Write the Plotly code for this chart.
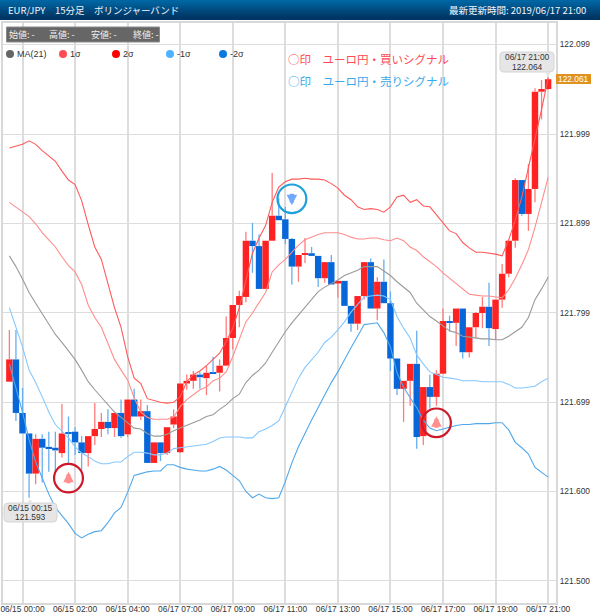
import plotly.graph_objects as go

# candle index 0 = 06/15 00:00, one candle per 15 minutes (weekend gap removed)
candle_index = list(range(-2, 81))
opens = [121.723,121.748,121.688,121.665,121.620,121.659,121.650,121.649,121.643,121.666,121.667,121.655,121.643,121.662,121.670,121.678,121.671,121.688,121.664,121.703,121.684,121.690,121.632,121.655,121.643,121.675,121.644,121.721,121.724,121.731,121.727,121.733,121.733,121.741,121.772,121.809,121.818,121.881,121.875,121.827,121.881,121.909,121.905,121.883,121.852,121.865,121.867,121.864,121.839,121.857,121.833,121.836,121.808,121.788,121.819,121.857,121.805,121.835,121.811,121.749,121.715,121.724,121.743,121.662,121.717,121.706,121.732,121.791,121.789,121.805,121.756,121.784,121.800,121.807,121.782,121.815,121.844,121.881,121.949,121.911,121.939,122.048,122.051]
closes = [121.748,121.688,121.665,121.620,121.659,121.649,121.648,121.646,121.665,121.665,121.655,121.643,121.662,121.670,121.678,121.671,121.688,121.662,121.703,121.684,121.690,121.632,121.655,121.643,121.672,121.684,121.721,121.724,121.731,121.728,121.733,121.732,121.741,121.772,121.809,121.819,121.881,121.875,121.827,121.881,121.909,121.904,121.883,121.852,121.865,121.867,121.864,121.839,121.857,121.832,121.836,121.808,121.788,121.819,121.857,121.805,121.835,121.811,121.749,121.715,121.724,121.743,121.661,121.717,121.706,121.732,121.791,121.789,121.805,121.756,121.784,121.800,121.807,121.783,121.815,121.844,121.881,121.949,121.911,121.939,122.048,122.051,122.062]
highs = [121.781,121.781,121.716,121.665,121.664,121.664,121.667,121.667,121.698,121.684,121.672,121.662,121.662,121.699,121.688,121.692,121.688,121.703,121.703,121.715,121.703,121.697,121.655,121.655,121.672,121.692,121.721,121.731,121.735,121.734,121.741,121.751,121.748,121.796,121.809,121.825,121.891,121.901,121.888,121.881,121.957,121.929,121.919,121.884,121.865,121.884,121.874,121.864,121.857,121.865,121.836,121.836,121.808,121.819,121.857,121.861,121.840,121.860,121.824,121.749,121.724,121.743,121.780,121.717,121.731,121.736,121.805,121.797,121.805,121.805,121.784,121.801,121.818,121.834,121.815,121.855,121.881,121.951,121.949,121.967,122.052,122.061,122.064]
lows = [121.723,121.679,121.665,121.593,121.608,121.610,121.622,121.622,121.638,121.631,121.641,121.624,121.628,121.652,121.661,121.664,121.661,121.660,121.661,121.684,121.680,121.632,121.632,121.634,121.641,121.671,121.643,121.714,121.715,121.715,121.708,121.732,121.712,121.741,121.759,121.784,121.812,121.845,121.827,121.827,121.881,121.904,121.877,121.832,121.835,121.856,121.864,121.829,121.834,121.832,121.817,121.808,121.779,121.781,121.815,121.805,121.792,121.811,121.735,121.708,121.678,121.696,121.648,121.652,121.693,121.696,121.732,121.779,121.763,121.749,121.750,121.772,121.783,121.763,121.770,121.806,121.840,121.873,121.909,121.892,121.924,122.017,122.050]

band_index = list(range(-2, 81))
ma21 = [121.864,121.852,121.838,121.823,121.811,121.799,121.787,121.776,121.767,121.758,121.748,121.736,121.723,121.714,121.706,121.698,121.689,121.683,121.677,121.671,121.670,121.665,121.662,121.662,121.664,121.668,121.671,121.674,121.677,121.680,121.684,121.686,121.692,121.697,121.704,121.709,121.722,121.730,121.736,121.744,121.756,121.768,121.779,121.789,121.798,121.807,121.815,121.824,121.829,121.833,121.837,121.842,121.845,121.848,121.852,121.852,121.852,121.847,121.842,121.835,121.829,121.823,121.811,121.804,121.796,121.791,121.786,121.780,121.778,121.774,121.773,121.772,121.771,121.771,121.770,121.770,121.774,121.779,121.784,121.795,121.815,121.827,121.840]
plus_1s = [121.924,121.919,121.914,121.908,121.900,121.890,121.882,121.874,121.863,121.853,121.846,121.832,121.809,121.795,121.784,121.767,121.748,121.736,121.725,121.705,121.689,121.683,121.681,121.681,121.681,121.683,121.695,121.703,121.708,121.714,121.717,121.724,121.727,121.734,121.751,121.770,121.790,121.800,121.811,121.823,121.846,121.854,121.860,121.868,121.876,121.882,121.885,121.888,121.890,121.890,121.890,121.888,121.885,121.883,121.883,121.884,121.884,121.882,121.881,121.884,121.881,121.874,121.870,121.863,121.858,121.852,121.845,121.839,121.834,121.828,121.821,121.820,121.819,121.819,121.818,121.817,121.826,121.839,121.854,121.871,121.896,121.923,121.952]
plus_2s = [121.985,121.987,121.989,121.993,121.989,121.982,121.976,121.970,121.959,121.949,121.944,121.926,121.899,121.874,121.860,121.834,121.806,121.784,121.751,121.727,121.721,121.704,121.702,121.700,121.699,121.700,121.706,121.723,121.731,121.735,121.741,121.748,121.755,121.768,121.783,121.806,121.837,121.867,121.884,121.898,121.924,121.941,121.947,121.950,121.950,121.951,121.950,121.950,121.949,121.945,121.940,121.932,121.927,121.919,121.916,121.917,121.916,121.913,121.919,121.930,121.932,121.924,121.927,121.920,121.919,121.910,121.901,121.892,121.889,121.879,121.873,121.868,121.868,121.867,121.866,121.864,121.882,121.904,121.930,121.963,121.994,122.028,122.063]
minus_1s = [121.806,121.784,121.762,121.736,121.722,121.706,121.689,121.675,121.667,121.660,121.650,121.643,121.639,121.634,121.631,121.631,121.633,121.633,121.639,121.644,121.644,121.643,121.641,121.641,121.643,121.648,121.649,121.650,121.651,121.652,121.653,121.656,121.660,121.661,121.661,121.661,121.660,121.660,121.667,121.670,121.674,121.679,121.695,121.712,121.727,121.739,121.748,121.756,121.767,121.773,121.781,121.790,121.801,121.809,121.818,121.819,121.820,121.819,121.815,121.796,121.783,121.772,121.753,121.743,121.734,121.731,121.728,121.727,121.726,121.724,121.724,121.724,121.723,121.723,121.723,121.723,121.720,121.716,121.716,121.717,121.718,121.723,121.727]
minus_2s = [121.743,121.716,121.689,121.658,121.633,121.615,121.597,121.582,121.573,121.564,121.553,121.548,121.552,121.555,121.556,121.565,121.576,121.582,121.599,121.618,121.620,121.622,121.623,121.623,121.630,121.630,121.627,121.625,121.624,121.623,121.623,121.625,121.628,121.624,121.618,121.612,121.600,121.593,121.597,121.593,121.592,121.593,121.611,121.632,121.650,121.666,121.680,121.694,121.708,121.722,121.734,121.748,121.761,121.774,121.787,121.788,121.789,121.778,121.762,121.733,121.717,121.705,121.694,121.680,121.671,121.668,121.670,121.672,121.674,121.675,121.675,121.676,121.676,121.676,121.677,121.677,121.669,121.655,121.649,121.642,121.627,121.621,121.616]

x_tick_index = [0, 8, 16, 24, 32, 40, 48, 56, 64, 72, 80]
x_tick_labels = ["06/15 00:00","06/15 02:00","06/15 04:00","06/17 07:00","06/17 09:00","06/17 11:00","06/17 13:00","06/17 15:00","06/17 17:00","06/17 19:00","06/17 21:00"]
y_tick_values = [121.5, 121.6, 121.7, 121.8005, 121.9005, 122.0006, 122.101]
y_tick_labels = ["121.500","121.600","121.699","121.799","121.899","121.999","122.099"]

signal_index = [7, 63, 41]
signal_price = [121.615, 121.677, 121.928]
signal_kind = ["buy", "buy", "sell"]

# page geometry
W, H = 600, 616
L, R, T, B = 3, 556, 23, 603
def px(x): return (x - L) / (R - L)
def py(y): return (B - y) / (B - T)

LATIN = "Liberation Sans, sans-serif"
CJK = "Noto Sans CJK JP, sans-serif"
RED, BLUE = "#ff2222", "#0766d8"
SMALL = 8.4

fig = go.Figure()

# candle bodies
fig.add_trace(go.Bar(
    x=candle_index,
    y=[abs(c - o) for o, c in zip(opens, closes)],
    base=[min(o, c) for o, c in zip(opens, closes)],
    width=0.98,
    marker=dict(color=[RED if c >= o else BLUE for o, c in zip(opens, closes)], line=dict(width=0)),
    showlegend=False, hoverinfo="skip",
))

# candle wicks, one trace per colour
for colour, is_up in (("#ff7a7a", True), ("#66aeee", False)):
    wx, wy = [], []
    for i, o, h, l, c in zip(candle_index, opens, highs, lows, closes):
        if (c >= o) != is_up:
            continue
        top, bot = max(o, c), min(o, c)
        if h > top:
            wx += [i, i, None]; wy += [top, h, None]
        if l < bot:
            wx += [i, i, None]; wy += [bot, l, None]
    fig.add_trace(go.Scatter(x=wx, y=wy, mode="lines", line=dict(color=colour, width=1.3),
                             showlegend=False, hoverinfo="skip"))

# bands
for name, vals, colour in (("MA(21)", ma21, "#9a9a9a"), ("1σ", plus_1s, "#ff8c8c"), ("2σ", plus_2s, "#ff5a5a"),
                           ("-1σ", minus_1s, "#85c8ff"), ("-2σ", minus_2s, "#4fa8ec")):
    fig.add_trace(go.Scatter(x=band_index, y=vals, mode="lines", name=name, line=dict(color=colour, width=1.1),
                             showlegend=False, hoverinfo="skip"))

shapes, annos = [], []

def text(x, y, s, size=SMALL, color="#333", family=LATIN, anchor="left"):
    annos.append(dict(xref="paper", yref="paper", x=px(x), y=py(y), text=s, showarrow=False, xanchor=anchor,
                      yanchor="middle", align=anchor, borderpad=0, font=dict(size=size, color=color, family=family)))

def rect(x0, y0, x1, y1, fill, line=None, lw=0, layer="above"):
    shapes.append(dict(type="rect", xref="paper", yref="paper", x0=px(x0), x1=px(x1), y0=py(y1), y1=py(y0),
                       fillcolor=fill, line=dict(color=line or fill, width=lw), layer=layer))

def callout(x0, y0, x1, y1, r, tip):
    xs = lambda v: f"{px(v):.5f}"
    ys = lambda v: f"{py(v):.5f}"
    p = (f"M {xs(x0+r)} {ys(y0)} L {xs(x1-r)} {ys(y0)} Q {xs(x1)} {ys(y0)} {xs(x1)} {ys(y0+r)} "
         f"L {xs(x1)} {ys(y1-r)} Q {xs(x1)} {ys(y1)} {xs(x1-r)} {ys(y1)} L {xs(x0+r)} {ys(y1)} "
         f"Q {xs(x0)} {ys(y1)} {xs(x0)} {ys(y1-r)} L {xs(x0)} {ys(y0+r)} Q {xs(x0)} {ys(y0)} {xs(x0+r)} {ys(y0)} Z")
    shapes.append(dict(type="path", xref="paper", yref="paper", path=p, fillcolor="#e6e6e6",
                       line=dict(color="#d4d4d4", width=1), layer="above"))
    tx, ty0, ty1 = tip
    shapes.append(dict(type="path", xref="paper", yref="paper",
                       path=f"M {xs(tx-3)} {ys(ty0)} L {xs(tx+3)} {ys(ty0)} L {xs(tx)} {ys(ty1)} Z",
                       fillcolor="#e6e6e6", line=dict(width=0), layer="above"))

# header gradient
head = [(0, 102, 163), (0, 96, 155), (0, 90, 148), (0, 84, 140), (0, 78, 132), (0, 72, 124), (0, 66, 116), (0, 60, 108), (0, 56, 104), (0, 52, 100)]
for k, c in enumerate(head):
    rect(0, k * 2, W, k * 2 + 2, f"rgb{c}")
text(7, 10, "EUR/JPY　15分足　ボリンジャーバンド", 9.5, "#f2f6fa", CJK)
text(587, 10, "最新更新時間: 2019/06/17 21:00", 9.5, "#f2f6fa", CJK, "right")

# OHLC strip
rect(6.5, 27, 159.5, 42, "#666666", "#8a8a8a", 1)
for x, s in ((8, "始値: -"), (48, "高値: -"), (90, "安値: -"), (132, "終値: -")):
    text(x, 34.5, s, 9, "#f0f0f0", CJK)

# legend row
for x, s, c in ((10, "MA(21)", "#666666"), (63, "1σ", "#ff4d55"), (116, "2σ", "#ff0000"),
                (170, "-1σ", "#4db2ff"), (223, "-2σ", "#0a7ae0")):
    shapes.append(dict(type="circle", xref="paper", yref="paper", x0=px(x - 4), x1=px(x + 4), y0=py(58), y1=py(50),
                       fillcolor=c, line=dict(width=0), layer="above"))
    text(x + 6, 54, s, 9, "#333")

# signal captions
text(287, 59, "○印　ユーロ円・買いシグナル", 11.5, "#ff4a55", CJK)
text(287, 81, "○印　ユーロ円・売りシグナル", 11.5, "#3aa8ec", CJK)

# signal circles and arrows
for i, p, kind in zip(signal_index, signal_price, signal_kind):
    ring = "#cc1a2a" if kind == "buy" else "#1ea0dc"
    shapes.append(dict(type="circle", xref="x", yref="y", x0=i - 2.2, x1=i + 2.2, y0=p - 0.016, y1=p + 0.016,
                       line=dict(color=ring, width=2.2), layer="above"))
    up = kind == "buy"
    annos.append(dict(xref="x", yref="y", x=i, y=p + (0.0072 if up else -0.0072), axref="pixel", ayref="pixel",
                      ax=0, ay=13 if up else -13, text="", showarrow=True, arrowhead=2, arrowsize=0.5,
                      arrowwidth=4.2, arrowcolor="#ff8f8f" if up else "#6fa8ff", standoff=0, startstandoff=0))

# value callouts
callout(4, 503, 57, 522, 4, (30, 503, 499))
text(30.5, 508, "06/15 00:15", SMALL, "#333", LATIN, "center")
text(30.5, 517, "121.593", SMALL, "#333", LATIN, "center")
callout(500, 52, 554, 72, 4, (548, 72, 77))
text(527, 57, "06/17 21:00", SMALL, "#333", LATIN, "center")
text(527, 67, "122.064", SMALL, "#333", LATIN, "center")

# last-price badge
rect(556, 74, 591, 84, "#e0921f")
text(573.5, 79, "122.061", SMALL, "#ffffff", LATIN, "center")

fig.update_layout(
    width=W, height=H, margin=dict(l=L, r=W - R, t=T, b=H - B, pad=0, autoexpand=False),
    paper_bgcolor="#ffffff", plot_bgcolor="#ffffff", barmode="overlay", showlegend=False,
    shapes=shapes, annotations=annos, font=dict(family=LATIN, size=SMALL, color="#333"),
    xaxis=dict(range=[-2.97, 81.2], tickmode="array", tickvals=x_tick_index, ticktext=x_tick_labels, showgrid=True,
               gridcolor="#dddddd", gridwidth=1.5, zeroline=False, showline=True, mirror=True, linecolor="#d8d8d8",
               linewidth=2, ticks="", ticklabelstandoff=-3, tickangle=0, automargin=False,
               tickfont=dict(size=SMALL, color="#333", family=LATIN)),
    yaxis=dict(side="right", range=[121.475, 122.125], tickmode="array", tickvals=y_tick_values, ticktext=y_tick_labels,
               showgrid=True, gridcolor="#dddddd", gridwidth=1, zeroline=False, showline=True, mirror=True,
               linecolor="#d8d8d8", linewidth=2, ticks="", automargin=False,
               tickfont=dict(size=SMALL, color="#333", family=LATIN)),
)

fig.write_html("out.html", config=dict(displayModeBar=False),
               post_script="document.body.style.margin='0';document.body.style.overflow='hidden';")
